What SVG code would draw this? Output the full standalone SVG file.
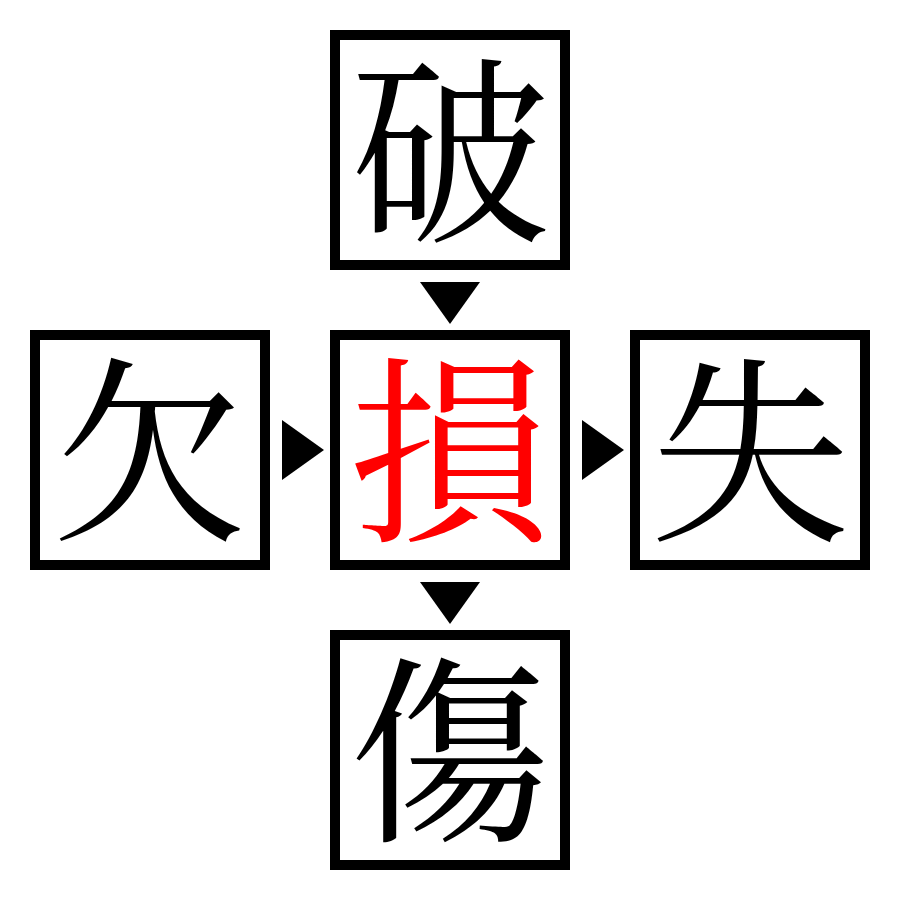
<svg xmlns="http://www.w3.org/2000/svg" width="900" height="900" viewBox="0 0 900 900">
<style>
.box{fill:#fff;stroke:#000;stroke-width:10}
.ch{font-family:"Noto Serif CJK JP","Noto Serif CJK SC","Noto Sans CJK JP",serif;font-size:200px;text-anchor:middle;fill:#000}
.hl{fill:#f00}
.arr{fill:#000}
</style>
<rect width="900" height="900" fill="#fff"/>
<g id="node-top"><rect class="box" x="335" y="35" width="230" height="230"/><text class="ch" x="450" y="226">破</text></g>
<g id="node-left"><rect class="box" x="35" y="335" width="230" height="230"/><text class="ch" x="150" y="526">欠</text></g>
<g id="node-center"><rect class="box" x="335" y="335" width="230" height="230"/><text class="ch hl" x="450" y="526">損</text></g>
<g id="node-right"><rect class="box" x="635" y="335" width="230" height="230"/><text class="ch" x="750" y="526">失</text></g>
<g id="node-bottom"><rect class="box" x="335" y="635" width="230" height="230"/><text class="ch" x="450" y="826">傷</text></g>
<g id="connectors">
<polygon class="arr" points="420,282 480,282 450,324"/>
<polygon class="arr" points="282,420 282,480 324,450"/>
<polygon class="arr" points="582,420 582,480 624,450"/>
<polygon class="arr" points="420,582 480,582 450,624"/>
</g>
</svg>
